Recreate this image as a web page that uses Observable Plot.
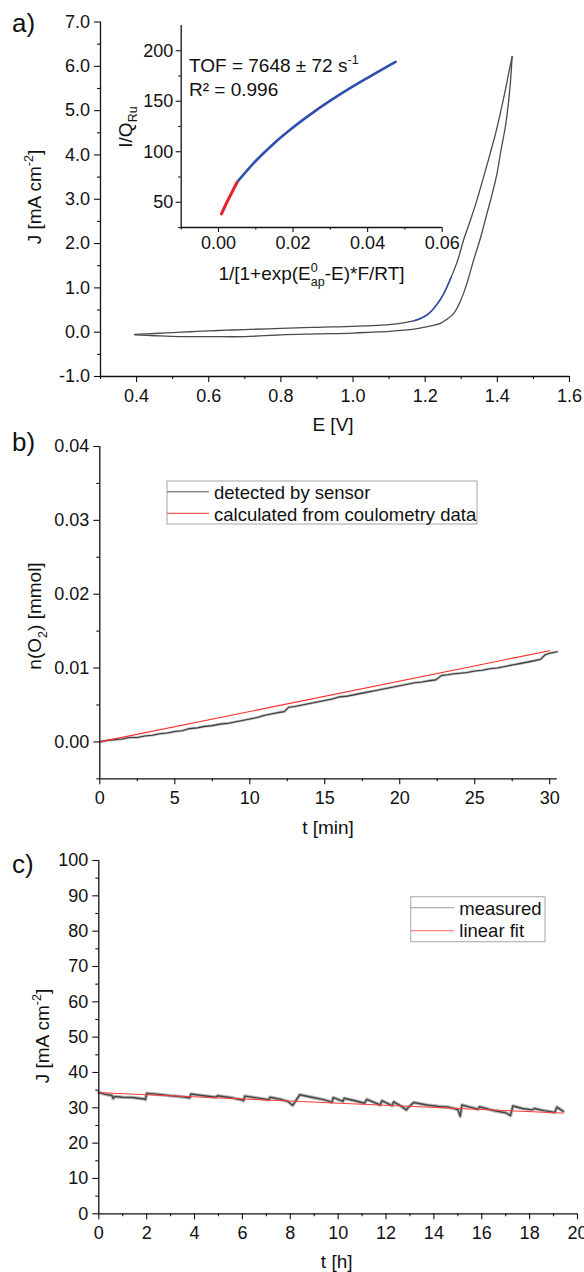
<!DOCTYPE html>
<html><head><meta charset="utf-8">
<script src="https://cdn.jsdelivr.net/npm/d3@7"></script>
<script src="https://cdn.jsdelivr.net/npm/@observablehq/plot@0.6"></script>
<style>
body{margin:0;background:#fff}
#fig{position:relative;width:584px;height:1272px;overflow:hidden;background:#fff;font-family:"Liberation Sans",Arial,Helvetica,sans-serif}
#fig svg{position:absolute;left:0;overflow:visible;background:transparent !important;max-width:none}
</style></head><body><div id="fig"></div>
<script>
// ---------- Panel a: cyclic voltammogram ----------
const cvForwardE = [0.395,0.45,0.50,0.55,0.60,0.65,0.70,0.80,0.90,1.00,1.05,1.10,1.14,1.17,1.19,1.21,1.23,1.25,1.272,1.29,1.306,1.325,1.343,1.36,1.38,1.395,1.408,1.42,1.431,1.441];
const cvForwardJ = [-0.05,-0.03,-0.01,0.01,0.03,0.045,0.06,0.085,0.11,0.13,0.15,0.17,0.21,0.26,0.32,0.42,0.60,0.85,1.24,1.62,2.07,2.52,2.97,3.45,4.03,4.48,4.93,5.38,5.83,6.22];
const cvReverseE = [1.441,1.436,1.430,1.422,1.41,1.399,1.385,1.371,1.353,1.334,1.32,1.306,1.292,1.279,1.26,1.242,1.22,1.196,1.15,1.10,1.05,1.00,0.90,0.80,0.70,0.60,0.52,0.45,0.395];
const cvReverseJ = [6.22,5.61,5.12,4.63,4.10,3.58,3.10,2.67,2.12,1.62,1.22,0.87,0.60,0.42,0.29,0.20,0.15,0.11,0.05,0.02,0.0,-0.02,-0.04,-0.06,-0.10,-0.10,-0.10,-0.08,-0.06];
const cvFitE = [1.17,1.19,1.21,1.23,1.25,1.272];
const cvFitJ = [0.26,0.32,0.42,0.60,0.85,1.24];
const aXTicks = [0.4,0.6,0.8,1.0,1.2,1.4,1.6];
const aXMinor = [0.3,0.5,0.7,0.9,1.1,1.3,1.5];
const aYTicks = [-1,0,1,2,3,4,5,6,7];
const aYMinor = [-0.5,0.5,1.5,2.5,3.5,4.5,5.5,6.5];

// ---------- Panel a inset: TOF analysis ----------
const insetRedX = [0.0008,0.002,0.0035,0.005];
const insetRedY = [38.5,48,59,70];
const insetBlueX = [0.005,0.0095,0.0148,0.0198,0.0256,0.0327,0.0399,0.0475];
const insetBlueY = [70,89,108,123.5,139.5,157,173,189];
const insXTicks = [0,0.02,0.04,0.06];
const insXMinor = [-0.01,0.01,0.03,0.05];
const insYTicks = [50,100,150,200];
const insYMinor = [25,75,125,175];

// ---------- Panel b: O2 evolution ----------
const sensorT = [0,0.5,1,1.5,2,2.5,3,3.5,4,4.5,5,5.5,6,6.5,7,7.5,8,8.5,9,9.5,10,10.5,11,11.5,12,12.3,12.6,13,13.5,14,14.5,15,15.5,16,16.5,17,17.5,18,18.5,19,19.5,20,20.5,21,21.5,22,22.4,22.8,23.2,23.5,24,24.5,25,25.5,26,26.5,27,27.5,28,28.5,29,29.4,29.7,30,30.5];
const sensorN = [0,0.0002,0.0003,0.0004,0.0006,0.0006,0.0008,0.0009,0.0011,0.0012,0.0014,0.0015,0.0018,0.0019,0.0021,0.0022,0.0024,0.0025,0.0027,0.0029,0.0031,0.0033,0.0036,0.0038,0.0040,0.0041,0.0047,0.0048,0.0050,0.0052,0.0054,0.0056,0.0058,0.0061,0.0062,0.0064,0.0066,0.0068,0.0070,0.0072,0.0074,0.0076,0.0078,0.0080,0.0081,0.0083,0.0084,0.0090,0.0091,0.0092,0.0093,0.0094,0.0096,0.0097,0.0099,0.0100,0.0102,0.0104,0.0106,0.0108,0.0110,0.0112,0.0118,0.0120,0.0122];
const coulT = [0,30];
const coulN = [0,0.01235];
const bXTicks = [0,5,10,15,20,25,30];
const bXMinor = [2.5,7.5,12.5,17.5,22.5,27.5];
const bYTicks = [0,0.01,0.02,0.03,0.04];
const bYMinor = [-0.005,0.005,0.015,0.025,0.035];

// ---------- Panel c: long-term electrolysis ----------
const measT = [0,0.3,0.55,0.6,0.65,1.0,1.4,1.9,1.95,2.0,2.5,3.0,3.5,3.8,3.85,4.3,4.9,4.95,5.5,6.0,6.05,6.1,6.6,7.1,7.15,7.6,7.9,8.1,8.15,8.4,8.9,9.4,9.74,9.8,10.2,10.25,10.7,11.1,11.2,11.76,11.83,12.25,12.32,12.6,12.85,12.9,13.15,13.7,14.2,14.6,15.0,15.1,15.17,15.5,15.85,15.9,16.5,17.0,17.2,17.3,17.7,18.1,18.2,18.6,19.05,19.14,19.4];
const measJ = [34.3,33.8,33.5,32.6,33.2,33.0,32.9,32.5,32.3,34.1,33.8,33.4,33.1,32.8,33.9,33.5,33.0,33.4,32.9,32.2,32.0,33.3,32.8,32.3,33.0,32.4,31.8,30.7,31.2,33.7,33.0,32.3,31.6,32.9,31.8,32.7,32.0,31.3,32.4,30.8,32.0,30.6,31.7,30.6,29.4,29.9,31.5,30.8,30.4,30.2,29.5,27.6,30.8,30.2,29.6,30.3,29.2,28.6,27.8,30.5,29.8,29.4,29.8,29.2,28.7,30.2,29.0];
const fitT = [0,19.4];
const fitJ = [34.3,28.5];
const cXTicks = [0,2,4,6,8,10,12,14,16,18,20];
const cXMinor = [1,3,5,7,9,11,13,15,17,19];
const cYTicks = [0,10,20,30,40,50,60,70,80,90,100];
const cYMinor = [5,15,25,35,45,55,65,75,85,95];

// ---------- rendering ----------
const W = 584;
const FONT = '"Liberation Sans", Arial, Helvetica, sans-serif';
const INK = "#111";
const fig = document.getElementById("fig");
const tbl = (xs, ys) => xs.map((x, i) => ({x, y: ys[i]}));

function makePanel(o) {
  const p = Plot.plot({
    width: W, height: o.height,
    marginLeft: o.frame.left, marginRight: W - o.frame.right,
    marginTop: o.frame.top - o.top, marginBottom: o.top + o.height - o.frame.bottom,
    style: {fontFamily: FONT, fontSize: o.fontSize + "px", background: "transparent", overflow: "visible", color: INK},
    x: {domain: o.xDomain},
    y: {domain: o.yDomain},
    marks: [
      ...o.marks,
      Plot.axisX({ticks: o.xMinor, tickSize: o.minor, tickFormat: () => "", label: null, strokeWidth: 1.1}),
      Plot.axisX({ticks: o.xTicks, tickSize: o.major, tickPadding: o.xPad, tickFormat: o.xFmt, label: null, strokeWidth: 1.1}),
      Plot.axisY({ticks: o.yMinor, tickSize: o.minor, tickFormat: () => "", label: null, strokeWidth: 1.1}),
      Plot.axisY({ticks: o.yTicks, tickSize: o.major, tickPadding: o.yPad, tickFormat: o.yFmt, label: null, strokeWidth: 1.1}),
      Plot.ruleX([o.xDomain[0]], {stroke: INK, strokeWidth: 1.3}),
      Plot.ruleY([o.yDomain[0]], {stroke: INK, strokeWidth: 1.3})
    ]
  });
  p.style.top = o.top + "px";
  fig.appendChild(p);
}

const lineOpts = (stroke, w, extra = {}) => ({x: "x", y: "y", stroke, strokeWidth: w, strokeLinejoin: "round", strokeLinecap: "round", ...extra});

// Panel a main
makePanel({
  top: 0, height: 440, frame: {left: 100, right: 569, top: 21.5, bottom: 376},
  xDomain: [0.3, 1.6], yDomain: [-1, 7],
  xTicks: aXTicks, xMinor: aXMinor, yTicks: aYTicks, yMinor: aYMinor,
  xFmt: d => d.toFixed(1), yFmt: d => d.toFixed(1),
  major: 6, minor: 3, xPad: 6.5, yPad: 4.5, fontSize: 18,
  marks: [
    Plot.line(tbl(cvForwardE, cvForwardJ), lineOpts("#4a4a4a", 1.3, {curve: "catmull-rom"})),
    Plot.line(tbl(cvReverseE, cvReverseJ), lineOpts("#4a4a4a", 1.3, {curve: "catmull-rom"})),
    Plot.line(tbl(cvFitE, cvFitJ), lineOpts("#2f4fb0", 1.5, {curve: "catmull-rom"}))
  ]
});

// Panel a inset
makePanel({
  top: 0, height: 300, frame: {left: 180.7, right: 441.7, top: 25, bottom: 227},
  xDomain: [-0.01, 0.06], yDomain: [25, 225],
  xTicks: insXTicks, xMinor: insXMinor, yTicks: insYTicks, yMinor: insYMinor,
  xFmt: d => d.toFixed(2), yFmt: d => String(d),
  major: 5, minor: 2.5, xPad: 3.5, yPad: 3, fontSize: 18,
  marks: [
    Plot.line(tbl(insetBlueX, insetBlueY), lineOpts("#2f4fb0", 2.6, {curve: "monotone-x"})),
    Plot.line(tbl(insetRedX, insetRedY), lineOpts("#e8212a", 3, {curve: "monotone-x"}))
  ]
});

// Panel b
makePanel({
  top: 420, height: 420, frame: {left: 99.3, right: 556.7, top: 446, bottom: 778.3},
  xDomain: [0, 30.5], yDomain: [-0.005, 0.04],
  xTicks: bXTicks, xMinor: bXMinor, yTicks: bYTicks, yMinor: bYMinor,
  xFmt: d => String(d), yFmt: d => d.toFixed(2),
  major: 6, minor: 3, xPad: 6.5, yPad: 4.5, fontSize: 18,
  marks: [
    Plot.line(tbl(sensorT, sensorN), lineOpts("#8a8a8a", 2.6, {strokeOpacity: 0.6})),
    Plot.line(tbl(sensorT, sensorN), lineOpts("#3a3a3a", 1.1)),
    Plot.line(tbl(coulT, coulN), lineOpts("#ff2a2a", 1.1))
  ]
});

// Panel c
makePanel({
  top: 840, height: 432, frame: {left: 98.3, right: 577, top: 860, bottom: 1213.3},
  xDomain: [0, 20], yDomain: [0, 100],
  xTicks: cXTicks, xMinor: cXMinor, yTicks: cYTicks, yMinor: cYMinor,
  xFmt: d => String(d), yFmt: d => String(d),
  major: 6, minor: 3, xPad: 6.5, yPad: 4.5, fontSize: 18,
  marks: [
    Plot.line(tbl(measT, measJ), lineOpts("#8a8a8a", 3.6, {strokeOpacity: 0.6})),
    Plot.line(tbl(measT, measJ), lineOpts("#454545", 1.4)),
    Plot.line(tbl(fitT, fitJ), lineOpts("#ff3b3b", 1))
  ]
});

// ---------- annotations: panel labels, axis titles, legends ----------
const ann = d3.create("svg").attr("width", W).attr("height", 1272)
  .style("top", "0px").style("font-family", FONT).style("pointer-events", "none");
fig.appendChild(ann.node());

function rich(x, y, segs, {size = 19, anchor = "start", rotate = false} = {}) {
  const g = ann.append("g").attr("transform", rotate ? `translate(${x},${y}) rotate(-90)` : `translate(${x},${y})`);
  const t = g.append("text").attr("text-anchor", anchor).attr("font-size", size).attr("fill", INK);
  let off = 0;
  for (const [txt, kind, dx] of segs) {
    const small = kind === "sup" || kind === "sub";
    const target = kind === "sup" ? -0.42 * size : kind === "sub" ? 0.3 * size : 0;
    const ts = t.append("tspan").text(txt).attr("dy", target - off).attr("font-size", small ? size * 0.66 : size);
    if (dx) ts.attr("dx", dx);
    off = target;
  }
}

// panel letters
rich(12, 32, [["a)"]], {size: 26});
rich(12, 451, [["b)"]], {size: 26});
rich(12, 873, [["c)"]], {size: 26});

// panel a titles
rich(41, 197, [["J [mA cm"], ["-2", "sup"], ["]"]], {anchor: "middle", rotate: true});
rich(333, 431, [["E [V]"]], {anchor: "middle"});
// inset titles and text
rich(131.5, 127, [["I/Q"], ["Ru", "sub"]], {anchor: "middle", rotate: true});
rich(311.5, 280, [["1/[1+exp(E"], ["0", "sup"], ["ap", "sub", -19 * 0.66 * 0.556], ["-E)*F/RT]"]], {anchor: "middle"});
rich(189, 71.7, [["TOF = 7648 ± 72 s"], ["-1", "sup"]]);
rich(189, 96, [["R² = 0.996"]]);

// panel b titles
rich(41, 616, [["n(O"], ["2", "sub"], [") [mmol]"]], {anchor: "middle", rotate: true});
rich(328, 834, [["t [min]"]], {anchor: "middle"});

// panel c titles
rich(48.5, 1036, [["J [mA cm"], ["-2", "sup"], ["]"]], {anchor: "middle", rotate: true});
rich(336.7, 1268, [["t [h]"]], {anchor: "middle"});

// legends
function legend(box, textX, rows) {
  ann.append("rect").attr("x", box.x).attr("y", box.y).attr("width", box.w).attr("height", box.h)
    .attr("fill", "none").attr("stroke", "#b4b4b4").attr("stroke-width", 1.2);
  for (const r of rows) {
    ann.append("line").attr("x1", box.x).attr("x2", r.x2).attr("y1", r.ly).attr("y2", r.ly)
      .attr("stroke", r.color).attr("stroke-width", r.w);
    ann.append("text").attr("x", textX).attr("y", r.ty).attr("font-size", 18.5).attr("fill", INK).text(r.label);
  }
}
legend({x: 167, y: 481, w: 310, h: 43}, 214, [
  {label: "detected by sensor", color: "#555", w: 1.1, x2: 209, ly: 491.7, ty: 498.5},
  {label: "calculated from coulometry data", color: "#ff5a5a", w: 1.3, x2: 209, ly: 513.3, ty: 520.5}
]);
legend({x: 410.7, y: 896.7, w: 134.3, h: 45}, 459.3, [
  {label: "measured", color: "#9a9a9a", w: 1.1, x2: 454, ly: 907.7, ty: 915},
  {label: "linear fit", color: "#ff6a6a", w: 1.1, x2: 454, ly: 930.7, ty: 937}
]);
</script></body></html>
